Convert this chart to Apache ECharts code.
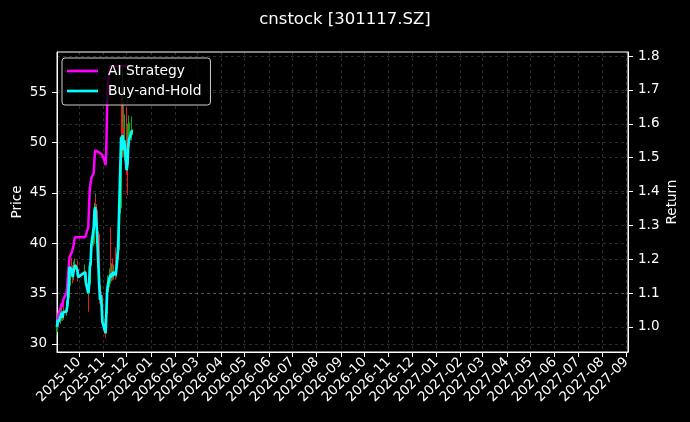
<!DOCTYPE html>
<html><head><meta charset="utf-8">
<script src="https://cdn.jsdelivr.net/npm/echarts@6/dist/echarts.min.js"></script>
<style>html,body{margin:0;padding:0;background:#000;}#c{width:690px;height:422px;}</style>
</head><body><div id="c"></div>
<script>
const dates = ['2025-09-03','2025-09-04','2025-09-05','2025-09-08','2025-09-09','2025-09-10','2025-09-11','2025-09-12','2025-09-15','2025-09-16','2025-09-17','2025-09-18','2025-09-19','2025-09-22','2025-09-23','2025-09-24','2025-09-25','2025-09-26','2025-09-29','2025-09-30',
'2025-10-09','2025-10-10','2025-10-13','2025-10-14','2025-10-15','2025-10-16','2025-10-17','2025-10-20','2025-10-21','2025-10-22','2025-10-23','2025-10-24','2025-10-27','2025-10-28','2025-10-29','2025-10-30','2025-10-31',
'2025-11-03','2025-11-04','2025-11-05','2025-11-06','2025-11-07','2025-11-10','2025-11-11','2025-11-12','2025-11-13','2025-11-14','2025-11-17','2025-11-18','2025-11-19','2025-11-20','2025-11-21','2025-11-24','2025-11-25','2025-11-26','2025-11-27','2025-11-28',
'2025-12-01','2025-12-02','2025-12-03','2025-12-04','2025-12-05','2025-12-08'];

// [open, close, low, high]
const ohlc = [
[31.2,31.7,30.9,32.0],[31.8,32.4,31.5,32.8],[32.5,32.2,31.9,32.9],[32.3,32.9,32.0,33.4],[33.0,33.1,32.6,33.6],
[33.1,32.6,32.3,33.3],[32.7,33.2,32.4,33.7],[33.3,33.1,32.8,33.8],[33.2,33.2,32.8,33.9],[33.3,33.7,33.0,34.3],
[33.8,34.5,33.5,35.1],[34.6,35.7,34.3,36.4],[35.8,37.7,35.5,38.3],[37.8,37.4,36.9,38.6],[37.3,36.6,36.0,37.8],
[36.7,37.2,36.3,37.7],[37.2,37.6,36.9,38.2],[37.7,37.9,37.2,38.5],[37.8,37.4,36.9,38.3],[37.4,36.6,36.2,37.6],
[36.8,37.2,36.3,37.9],[37.1,36.1,35.8,37.3],[35.6,35.1,33.2,35.9],[35.2,35.9,34.8,36.6],[36.0,37.7,35.8,38.1],
[37.8,38.2,37.3,38.9],[38.3,39.9,38.0,40.5],[40.0,41.6,39.7,42.3],[41.8,43.3,41.4,44.0],[43.4,43.6,42.8,44.9],
[43.7,43.5,42.9,44.6],[43.3,41.3,40.8,43.9],[40.9,35.9,35.6,41.2],[35.8,34.4,34.0,36.4],[34.5,34.9,33.9,35.6],
[34.8,33.9,33.5,35.2],[33.8,32.2,31.9,34.1],[32.1,31.4,31.0,32.5],[31.3,31.1,30.6,31.8],[31.2,32.9,31.0,33.2],
[33.0,35.1,32.8,35.6],[35.2,35.9,34.9,36.8],[36.0,36.9,35.6,37.5],[37.8,36.6,36.2,41.6],[36.7,37.1,36.2,38.0],
[37.4,36.8,36.3,38.5],[36.9,37.2,36.4,37.9],[37.6,36.9,36.4,39.6],[37.0,37.6,36.6,38.2],[37.7,38.4,37.3,39.0],
[38.5,39.3,38.0,40.2],[39.4,41.8,39.1,43.0],[43.5,50.6,43.0,50.6],[52.0,50.3,48.9,55.5],[50.0,50.8,48.5,57.6],
[51.5,49.3,48.6,54.0],[49.4,50.3,48.2,52.8],[50.5,47.3,46.8,53.5],[48.9,47.8,44.8,49.5],[47.9,49.8,47.5,51.9],
[49.9,50.3,49.0,52.7],[50.4,50.6,49.6,52.0],[50.8,51.3,50.2,52.6]];

const aiStrategy = [1.000,1.020,1.040,1.060,1.070,1.060,1.080,1.075,1.100,1.120,1.150,1.180,1.206,1.221,1.222,1.240,1.255,1.265,1.265,1.265,
1.265,1.265,1.295,1.360,1.410,1.425,1.440,1.455,1.500,1.522,1.525,1.520,1.515,1.510,1.515,1.510,1.505,
1.490,1.478,1.520,1.640,1.720,1.771,1.771,1.771,1.771,1.771,1.771,1.771,1.771,1.771,1.771,1.771,1.771,1.771,1.771,1.771,
1.771,1.771,1.771,1.771,1.771,1.771];

const buyHold = [1.000,1.021,1.015,1.035,1.041,1.027,1.044,1.041,1.045,1.060,1.085,1.120,1.177,1.168,1.147,1.162,1.174,1.183,1.168,1.147,
1.162,1.130,1.100,1.124,1.177,1.192,1.242,1.295,1.345,1.354,1.351,1.286,1.124,1.080,1.094,1.065,1.015,
0.991,0.982,1.035,1.100,1.124,1.153,1.145,1.159,1.150,1.162,1.153,1.174,1.198,1.227,1.300,1.560,1.552,1.566,1.522,1.552,
1.463,1.478,1.537,1.552,1.560,1.581];

const priceTicks = [30,35,40,45,50,55];
const returnTicks = [1.0,1.1,1.2,1.3,1.4,1.5,1.6,1.7,1.8];
const monthTicks = ['2025-10','2025-11','2025-12','2026-01','2026-02','2026-03','2026-04','2026-05','2026-06','2026-07','2026-08','2026-09','2026-10','2026-11','2026-12',
'2027-01','2027-02','2027-03','2027-04','2027-05','2027-06','2027-07','2027-08','2027-09'];
const xStart = '2025-09-03', xEnd = '2027-09-03';
const seriesNames = ['AI Strategy','Buy-and-Hold'];

const ts = s => new Date(s + 'T00:00:00').getTime();
const monthTs = monthTicks.map(m => ts(m + '-01'));
const pad = n => (n < 10 ? '0' : '') + n;
const FONT = 'DejaVu Sans';
const gridLine = {show:true, lineStyle:{color:'rgba(255,255,255,0.22)', type:[3,3], width:0.8}};

const chart = echarts.init(document.getElementById('c'), null, {renderer:'canvas'});
chart.setOption({
  backgroundColor:'#000',
  animation:false,
  textStyle:{fontFamily:FONT},
  title:{text:'cnstock [301117.SZ]', left:'center', top:6, textStyle:{color:'#fff', fontSize:16.5, fontWeight:'normal', fontFamily:FONT}},
  grid:{left:57, right:62, top:52, bottom:70, containLabel:false, outerBoundsMode:'none', show:true, borderColor:'#fff', borderWidth:1, backgroundColor:'transparent'},
  legend:{
    left:62, top:58, orient:'vertical', itemWidth:31, itemHeight:2.7, itemGap:6,
    padding:[6,9,7,5], backgroundColor:'rgba(0,0,0,0.8)', borderColor:'#ccc', borderWidth:1, borderRadius:3,
    textStyle:{color:'#fff', fontSize:13.8, fontFamily:FONT, padding:[0,0,0,5]},
    data:seriesNames.map(n => ({name:n, icon:'rect'}))
  },
  xAxis:{
    type:'value', min:ts(xStart), max:ts(xEnd),
    axisLine:{show:true, lineStyle:{color:'#fff'}},
    axisTick:{show:true, customValues:monthTs, length:5, lineStyle:{color:'#fff'}},
    axisLabel:{customValues:monthTs, rotate:45, color:'#fff', fontSize:13.5, fontFamily:FONT, margin:8,
      formatter:v => { const d = new Date(v); return d.getFullYear() + '-' + pad(d.getMonth()+1); }},
    splitLine:gridLine
  },
  yAxis:[
    {type:'value', position:'left', min:29.2, max:59.0, name:'Price', nameLocation:'middle', nameGap:33, nameMoveOverlap:false,
     nameTextStyle:{color:'#fff', fontSize:13.5, fontFamily:FONT},
     axisLine:{show:true, lineStyle:{color:'#fff'}},
     axisTick:{show:true, customValues:priceTicks, length:5, lineStyle:{color:'#fff'}},
     axisLabel:{customValues:priceTicks, color:'#fff', fontSize:13.5, fontFamily:FONT, margin:10},
     splitLine:gridLine},
    {type:'value', position:'right', min:0.926, max:1.812, name:'Return', nameLocation:'middle', nameGap:37, nameMoveOverlap:false,
     nameTextStyle:{color:'#fff', fontSize:13.5, fontFamily:FONT},
     axisLine:{show:true, lineStyle:{color:'#fff'}},
     axisTick:{show:true, customValues:returnTicks, length:5, lineStyle:{color:'#fff'}},
     axisLabel:{customValues:returnTicks, color:'#fff', fontSize:13.5, fontFamily:FONT, margin:10, formatter:v => v.toFixed(1)},
     splitLine:gridLine}
  ],
  series:[
    {type:'candlestick', name:'Price', yAxisIndex:0, barWidth:1.5, z:1,
     data:dates.map((d,i) => [ts(d), ohlc[i][0], ohlc[i][1], ohlc[i][2], ohlc[i][3]]),
     itemStyle:{color:'#1aa01a', color0:'#e81c1c', borderColor:'#1aa01a', borderColor0:'#e81c1c', borderWidth:1}},
    {type:'line', name:seriesNames[0], yAxisIndex:1, symbol:'none', z:3, clip:true,
     data:dates.map((d,i) => [ts(d), aiStrategy[i]]),
     lineStyle:{color:'#ff00ff', width:2.5}, itemStyle:{color:'#ff00ff'}},
    {type:'line', name:seriesNames[1], yAxisIndex:1, symbol:'none', z:4, clip:true,
     data:dates.map((d,i) => [ts(d), buyHold[i]]),
     lineStyle:{color:'#00ffff', width:2.7}, itemStyle:{color:'#00ffff'}}
  ]
});
</script></body></html>
